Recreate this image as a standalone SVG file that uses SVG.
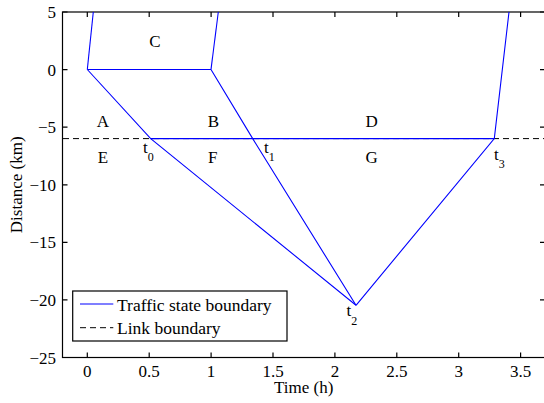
<svg xmlns="http://www.w3.org/2000/svg" width="544" height="403" viewBox="0 0 544 403" font-family="'Liberation Serif', 'Times New Roman', Times, 'DejaVu Serif', serif">
<style>
text{font-family:'Liberation Serif','Times New Roman',Times,'DejaVu Serif',serif;fill:#000;}
.tk{font-size:17px;}
.lg{font-size:17.5px;}
.lab{font-size:17px;text-anchor:middle;}
.sub{font-size:12px;}
.ax{stroke:#000;stroke-width:1.2;fill:none;}
.bl{stroke:#0000ff;stroke-width:1.1;fill:none;}
.dash{stroke:#000;stroke-width:1;stroke-dasharray:6,4;fill:none;}
</style>
<rect width="544" height="403" fill="#fff"/>
<g id="axes">
<rect class="ax" x="62.5" y="12" width="482.5" height="345.5"/>
<path class="ax" d="M87.3 357.5v-5M149.2 357.5v-5M211.1 357.5v-5M273 357.5v-5M334.9 357.5v-5M396.8 357.5v-5M458.7 357.5v-5M520.6 357.5v-5
M87.3 12v5M149.2 12v5M211.1 12v5M273 12v5M334.9 12v5M396.8 12v5M458.7 12v5M520.6 12v5
M62.5 12h5M62.5 69.6h5M62.5 127.2h5M62.5 184.8h5M62.5 242.3h5M62.5 299.9h5M62.5 357.5h5
M545 12h-5M545 69.6h-5M545 127.2h-5M545 184.8h-5M545 242.3h-5M545 299.9h-5"/>
<g class="tk" text-anchor="middle">
<text x="87.3" y="377">0</text>
<text x="149.2" y="377">0.5</text>
<text x="211.1" y="377">1</text>
<text x="273" y="377">1.5</text>
<text x="334.9" y="377">2</text>
<text x="396.8" y="377">2.5</text>
<text x="458.7" y="377">3</text>
<text x="520.6" y="377">3.5</text>
</g>
<g class="tk" text-anchor="end">
<text x="56" y="18">5</text>
<text x="56" y="75.6">0</text>
<text x="56" y="133.2">−5</text>
<text x="56" y="190.8">−10</text>
<text x="56" y="248.3">−15</text>
<text x="56" y="305.9">−20</text>
<text x="56" y="363.5">−25</text>
</g>
<text class="lab" x="303.7" y="392.5">Time (h)</text>
<text class="lab" transform="translate(22 184.8) rotate(-90)">Distance (km)</text>
</g>
<g id="connectors">
<path class="dash" d="M63 138.6H545"/>
<path class="bl" d="M87.3 69.5L93.3 12"/>
<path class="bl" d="M87.3 69.5H211"/>
<path class="bl" d="M211 69.5L218.3 12"/>
<path class="bl" d="M87.3 69.5L150.7 138.6L356 305.3"/>
<path class="bl" d="M211 69.5L252.7 138.6L356 305.3"/>
<path class="bl" d="M356 305.3L494.3 138.6L509 12"/>
<path class="bl" d="M150.7 138.6H494.3"/>
</g>
<g id="region-labels">
<text class="lab" x="155" y="46.7">C</text>
<text class="lab" x="103" y="127">A</text>
<text class="lab" x="213.3" y="127">B</text>
<text class="lab" x="371.7" y="127">D</text>
<text class="lab" x="103" y="162.5">E</text>
<text class="lab" x="212.7" y="162.5">F</text>
<text class="lab" x="371.7" y="162.5">G</text>
</g>
<g id="time-labels" class="tk">
<text x="143" y="153">t<tspan class="sub" dy="8">0</tspan></text>
<text x="264" y="153">t<tspan class="sub" dy="8">1</tspan></text>
<text x="346.5" y="316">t<tspan class="sub" dy="9">2</tspan></text>
<text x="494" y="159.5">t<tspan class="sub" dy="8.5">3</tspan></text>
</g>
<g id="legend">
<rect x="72.7" y="291" width="214.3" height="50" fill="#fff" stroke="#000" stroke-width="1.2"/>
<path class="bl" d="M80 304H113.3"/>
<path class="dash" d="M80 327.7H113.3" stroke-dasharray="6,5"/>
<text class="lg" x="117" y="310.5">Traffic state boundary</text>
<text class="lg" x="117" y="334">Link boundary</text>
</g>
</svg>
